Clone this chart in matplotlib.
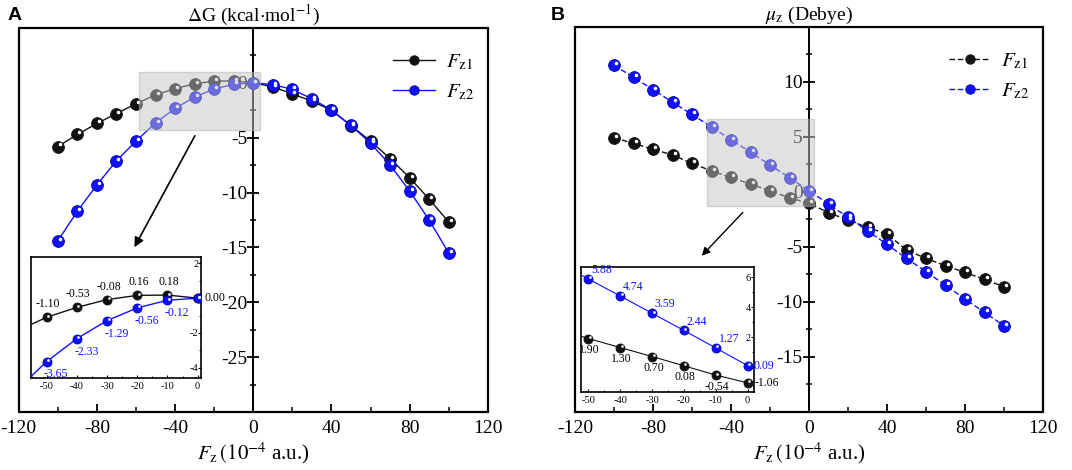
import numpy as np
import matplotlib
matplotlib.use('Agg')
import matplotlib.pyplot as plt
from matplotlib.patches import Rectangle
from matplotlib.transforms import offset_copy
from matplotlib.ticker import MultipleLocator

'''data'''
fz = [-100, -90, -80, -70, -60, -50, -40, -30, -20, -10, 0,
      10, 20, 30, 40, 50, 60, 70, 80, 90, 100]
dg_fz1 = [-5.8, -4.7, -3.7, -2.8, -1.9, -1.10, -0.53, -0.08, 0.16, 0.18, 0.00,
          -0.36, -1.0, -1.67, -2.5, -3.9, -5.3, -6.9, -8.64, -10.6, -12.67]
dg_fz2 = [-14.4, -11.7, -9.3, -7.1, -5.3, -3.65, -2.33, -1.29, -0.56, -0.12, 0.00,
          -0.15, -0.6, -1.45, -2.48, -3.88, -5.5, -7.48, -9.85, -12.5, -15.5]
mu_fz1 = [4.92, 4.4, 3.86, 3.35, 2.57, 1.90, 1.30, 0.70, 0.08, -0.54, -1.06,
          -1.9, -2.58, -3.24, -3.85, -5.3, -6.06, -6.73, -7.33, -7.97, -8.64]
mu_fz2 = [11.5, 10.4, 9.29, 8.14, 7.03, 5.88, 4.74, 3.59, 2.44, 1.27, 0.09,
          -1.12, -2.33, -3.55, -4.79, -6.06, -7.27, -8.5, -9.76, -10.97, -12.18]

# inset labels (x -50..0)
dg_lab1 = ['-1.10', '-0.53', '-0.08', '0.16', '0.18', '0.00']
dg_lab2 = ['-3.65', '-2.33', '-1.29', '-0.56', '-0.12', '']
mu_lab1 = ['1.90', '1.30', '0.70', '0.08', '-0.54', '-1.06']
mu_lab2 = ['5.88', '4.74', '3.59', '2.44', '1.27', '0.09']

plt.rcParams['font.family'] = 'Liberation Serif'
plt.rcParams['mathtext.fontset'] = 'stix'
plt.rcParams['axes.unicode_minus'] = False

BLK = '#111111'
BLU = '#1010ff'

fig = plt.figure(figsize=(10.72, 4.70), dpi=100)


def spheres(ax, x, y, color, ms, ls, lw=1.0, z=3, label=None):
    ax.plot(x, y, ls=ls, color=color, lw=lw, marker='o', ms=ms,
            mfc=color, mec=BLK if color == BLK else '#0000aa', mew=0.6,
            zorder=z, label=label)
    tr = offset_copy(ax.transData, fig=fig, x=ms * 0.17, y=ms * 0.17, units='points')
    ax.plot(x, y, ls='none', marker='o', ms=ms * 0.3, mfc='white', mec='none',
            transform=tr, zorder=z + 0.1)


def main_axes(rect, y1, y2, ylist, title):
    ax = fig.add_axes(rect)
    ax.set_xlim(-120, 120)
    ax.set_ylim(y1, y2)
    for s in ['top', 'right']:
        ax.spines[s].set_visible(False)
    ax.spines['left'].set_position(('data', 0))
    ax.spines['left'].set_linewidth(1.4)
    ax.spines['bottom'].set_linewidth(1.4)
    ax.add_patch(Rectangle((0, 0), 1, 1, transform=ax.transAxes, fill=False,
                           lw=1.6, ec='black', clip_on=False, zorder=10))
    ax.set_xticks([-120, -80, -40, 0, 40, 80, 120])
    ax.xaxis.set_minor_locator(MultipleLocator(20))
    ax.set_yticks(ylist)
    ax.yaxis.set_minor_locator(MultipleLocator(2.5))
    ax.tick_params(axis='x', which='major', direction='in', length=6, width=1.3,
                   labelsize=14, pad=6)
    ax.tick_params(axis='x', which='minor', direction='in', length=3.5, width=1.1)
    ax.tick_params(axis='y', which='major', direction='inout', length=9, width=1.3,
                   labelsize=14, pad=0)
    ax.tick_params(axis='y', which='minor', direction='inout', length=5, width=1.1)
    ax.set_title(title, fontsize=14, pad=5)
    ax.set_xlabel(r'$F_\mathrm{z}\,(10^{-4}$ a.u.)', fontsize=15, labelpad=2)
    return ax


def inset_axes(rect, xl, yl, yt):
    ia = fig.add_axes(rect)
    ia.set_xlim(*xl)
    ia.set_ylim(*yl)
    for s in ia.spines.values():
        s.set_linewidth(1.2)
    ia.yaxis.tick_right()
    ia.set_xticks([-50, -40, -30, -20, -10, 0])
    ia.xaxis.set_minor_locator(MultipleLocator(5))
    ia.set_yticks(yt)
    ia.yaxis.set_minor_locator(MultipleLocator(1))
    ia.tick_params(which='major', direction='in', length=2.5, width=0.8, labelsize=7.5)
    ia.tick_params(which='minor', direction='in', length=1.5, width=0.6)
    ia.tick_params(axis='y', pad=-2)
    for t in ia.get_yticklabels():
        t.set_horizontalalignment('right')
    ia.tick_params(axis='x', pad=3)
    return ia


'''panel A'''
axA = main_axes([0.0175, 0.1234, 0.4375, 0.817], -30, 5,
                [-25, -20, -15, -10, -5, 0], r'$\Delta$G (kcal$\cdot$mol$^{-1}$)')
spheres(axA, fz, dg_fz1, BLK, 8.5, '-', label=r'$F_\mathrm{z1}$')
spheres(axA, fz, dg_fz2, BLU, 8.5, '-', label=r'$F_\mathrm{z2}$')
axA.add_patch(Rectangle((-58.5, -4.3), 61.9, 5.3, fc='#c4c4c4', ec='#b0b0b0',
                        alpha=0.5, lw=1, zorder=5))
axA.annotate('', xy=(-61.5, -15.2), xytext=(-29.2, -4.6),
             arrowprops=dict(arrowstyle='-|>', color='black', lw=1.2,
                             mutation_scale=14), zorder=6)
axA.legend(loc='upper right', bbox_to_anchor=(1.01, 0.985), frameon=False,
           fontsize=15, handlelength=2.0, handletextpad=0.5,
           labelspacing=0.5, markerscale=0.8)

iaA = inset_axes([0.0289, 0.1964, 0.1586, 0.256], (-55.2, 1.1), (-4.58, 2.35),
                 [-4, -2, 0, 2])
spheres(iaA, fz, dg_fz1, BLK, 6.5, '-')
spheres(iaA, fz, dg_fz2, BLU, 6.5, '-')
for xv, yv, s in zip(fz[5:11], dg_fz1[5:11], dg_lab1):
    if s == '0.00':
        iaA.annotate(s, (xv, yv), xytext=(5, 0), textcoords='offset points',
                     ha='left', va='center', fontsize=8.5, annotation_clip=False)
    else:
        iaA.annotate(s, (xv, yv), xytext=(1, 5), textcoords='offset points',
                     ha='center', va='bottom', fontsize=8.5)
for xv, yv, s in zip(fz[5:11], dg_fz2[5:11], dg_lab2):
    iaA.annotate(s, (xv, yv), xytext=(-2, -5), textcoords='offset points',
                 ha='left', va='top', fontsize=8.5, color=BLU)

'''panel B'''
axB = main_axes([0.5364, 0.124, 0.4366, 0.819], -20, 15,
                [-15, -10, -5, 0, 5, 10], r'$\mu_\mathrm{z}$ (Debye)')
spheres(axB, fz, mu_fz1, BLK, 8.5, (0, (4, 2)), label=r'$F_\mathrm{z1}$')
spheres(axB, fz, mu_fz2, BLU, 8.5, (0, (4, 2)), label=r'$F_\mathrm{z2}$')
axB.add_patch(Rectangle((-52.2, -1.3), 54.6, 7.9, fc='#c4c4c4', ec='#b0b0b0',
                        alpha=0.5, lw=1, zorder=5))
axB.annotate('', xy=(-56, -6.0), xytext=(-33, -1.7),
             arrowprops=dict(arrowstyle='-|>', color='black', lw=1.0,
                             mutation_scale=12), zorder=6)
axB.legend(loc='upper right', bbox_to_anchor=(1.01, 0.985), frameon=False,
           fontsize=15, handlelength=2.0, handletextpad=0.5,
           labelspacing=0.5, markerscale=0.8)

iaB = inset_axes([0.542, 0.1666, 0.1611, 0.266], (-52.3, 1.9), (-1.65, 6.7),
                 [0, 2, 4, 6])
spheres(iaB, fz, mu_fz1, BLK, 6.5, '-', lw=0.8)
spheres(iaB, fz, mu_fz2, BLU, 6.5, '-', lw=0.8)
for xv, yv, s in zip(fz[5:11], mu_fz1[5:11], mu_lab1):
    if s == '-1.06':
        iaB.annotate(s, (xv, yv), xytext=(5, 0), textcoords='offset points',
                     ha='left', va='center', fontsize=8.5, annotation_clip=False)
    else:
        iaB.annotate(s, (xv, yv), xytext=(1, -4), textcoords='offset points',
                     ha='center', va='top', fontsize=8.5)
for xv, yv, s in zip(fz[5:11], mu_fz2[5:11], mu_lab2):
    if s == '0.09':
        iaB.annotate(s, (xv, yv), xytext=(4, 0), textcoords='offset points',
                     ha='left', va='center', fontsize=8.5, color=BLU,
                     annotation_clip=False)
    else:
        iaB.annotate(s, (xv, yv), xytext=(2, 2), textcoords='offset points',
                     ha='left', va='bottom', fontsize=8.5, color=BLU)

fig.text(0.007, 0.968, 'A', fontsize=14, fontweight='bold', family='Liberation Sans',
         va='center')
fig.text(0.514, 0.968, 'B', fontsize=14, fontweight='bold', family='Liberation Sans',
         va='center')

plt.savefig('out.png', dpi=100)
